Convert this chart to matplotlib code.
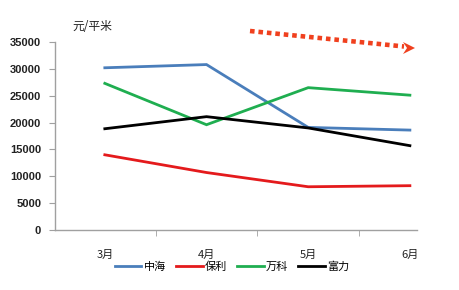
import matplotlib
matplotlib.use("Agg")
import matplotlib.pyplot as plt
from matplotlib.lines import Line2D
from matplotlib.patches import Polygon

plt.rcParams['font.family'] = ['Noto Sans CJK SC', 'DejaVu Sans']

months = ["3月", "4月", "5月", "6月"]
zhonghai = [30200, 30800, 19100, 18600]
baoli = [14000, 10700, 8050, 8250]
vanke = [27300, 19600, 26500, 25100]
fuli = [18850, 21100, 19000, 15700]
yticks = [0, 5000, 10000, 15000, 20000, 25000, 30000, 35000]

series = [("中海", zhonghai, "#4a7ebb"),
          ("保利", baoli, "#e41a1c"),
          ("万科", vanke, "#1fae50"),
          ("富力", fuli, "#000000")]

fig = plt.figure(figsize=(4.6, 2.9), dpi=100)
ax = fig.add_axes([55/460, 1-230/290, (417-55)/460, (230-42)/290])

x = list(range(len(months)))
for name, vals, c in series:
    ax.plot(x, vals, color=c, lw=2.0, label=name, solid_joinstyle='miter')

ax.set_xlim(-0.49, 3.07)
ax.set_ylim(0, 35000)
ax.set_yticks(yticks)
ax.set_yticklabels([str(v) for v in yticks], fontsize=8, fontweight='bold', color='#222222',
                   family=['Liberation Sans', 'DejaVu Sans'])
ax.set_xticks(x)
ax.set_xticklabels(months, fontsize=8, color='#222222')
ax.set_xticks([0.5, 1.5, 2.5], minor=True)
ax.tick_params(axis='x', which='major', length=0, pad=14)
ax.tick_params(axis='x', which='minor', length=4, color='#a0a0a0', direction='out')
ax.tick_params(axis='y', length=4, color='#a0a0a0', direction='out', pad=6)
for s in ['top', 'right']:
    ax.spines[s].set_visible(False)
for s in ['left', 'bottom']:
    ax.spines[s].set_color('#a0a0a0')
    ax.spines[s].set_linewidth(1.0)

fig.text(72/460, 1-27/290, "元/平米", fontsize=8.5, color='#222222', va='center', ha='left')

leg = fig.legend(loc='center', bbox_to_anchor=(232/460, 1-267/290), ncol=4, frameon=False,
                 fontsize=8, handlelength=2.4, handletextpad=0.2, columnspacing=0.9)

acol = '#f0401e'
x0, y0, x1, y1 = 250, 31, 404, 46.5
fig.add_artist(Line2D([x0/460, x1/460], [1-y0/290, 1-y1/290], transform=fig.transFigure,
                      color=acol, lw=3.3, linestyle=(0, (1.0, 0.85)), dash_capstyle='butt'))
pts = [(415, 48), (403, 42), (407, 48), (403, 54)]
head = [(px/460, 1-py/290) for px, py in pts]
fig.add_artist(Polygon(head, closed=True, transform=fig.transFigure, color=acol, lw=0))

fig.savefig("out.png", dpi=100)
